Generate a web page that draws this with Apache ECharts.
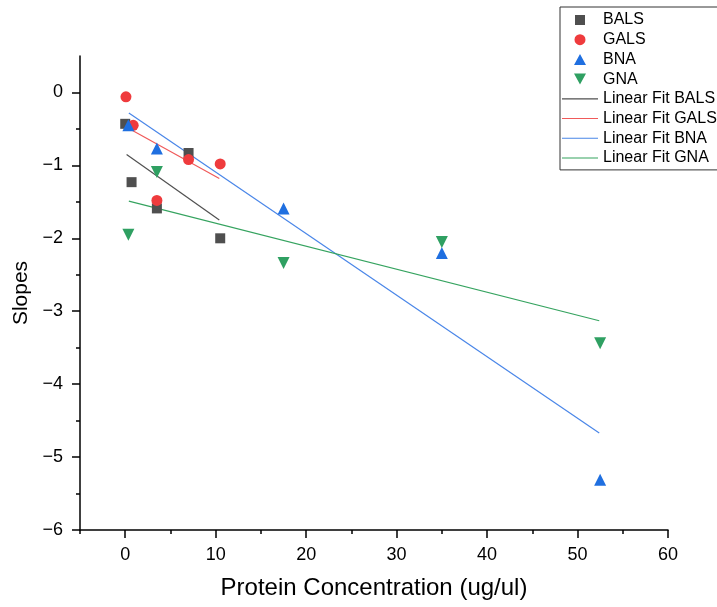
<!DOCTYPE html>
<html>
<head>
<meta charset="utf-8">
<script src="https://cdn.jsdelivr.net/npm/echarts@6/dist/echarts.min.js"></script>
<style>html,body{margin:0;padding:0;background:#fff}#c{width:717px;height:607px}</style>
</head>
<body>
<div id="c"></div>
<script>
// ---- data ----
const balsX = [0, 0.7, 3.5, 7, 10.5];
const balsY = [-0.43, -1.23, -1.59, -0.83, -2.0];
const galsX = [0.08, 0.88, 3.5, 7, 10.5];
const galsY = [-0.06, -0.45, -1.48, -0.92, -0.98];
const bnaX = [0.35, 3.5, 17.5, 35, 52.5];
const bnaY = [-0.45, -0.77, -1.59, -2.2, -5.31];
const gnaX = [0.35, 3.5, 17.5, 35, 52.5];
const gnaY = [-1.95, -1.09, -2.34, -2.05, -3.44];
// fit line endpoints
const fitBalsX = [0.15, 10.4], fitBalsY = [-0.85, -1.75];
const fitGalsX = [0.2, 10.4], fitGalsY = [-0.48, -1.18];
const fitBnaX = [0.4, 52.4], fitBnaY = [-0.28, -4.67];
const fitGnaX = [0.4, 52.4], fitGnaY = [-1.49, -3.13];
// ticks
const xTicks = [0, 10, 20, 30, 40, 50, 60];
const xMinor = [-5, 5, 15, 25, 35, 45, 55];
const yTicks = [0, -1, -2, -3, -4, -5, -6];
const yMinor = [-0.5, -1.5, -2.5, -3.5, -4.5, -5.5];
const names = ['BALS', 'GALS', 'BNA', 'GNA', 'Linear Fit BALS', 'Linear Fit GALS', 'Linear Fit BNA', 'Linear Fit GNA'];

const zip = (xs, ys) => xs.map((x, i) => [x, ys[i]]);
const FONT = '"Liberation Sans", Arial, sans-serif';
const minus = v => String(v).replace('-', '\u2212');

// legend icons: padded paths (36x11 box) so shapes keep their own size
const PAD = 'M0,0L0,0ZM36,11L36,11Z';
const icons = {
  'BALS': 'path://' + PAD + 'M13,0.5L23,0.5L23,10.5L13,10.5Z',
  'GALS': 'path://' + PAD + 'M18,0A5.5,5.5,0,1,1,17.99,0Z',
  'BNA': 'path://' + PAD + 'M12,11L18,0L24,11Z',
  'GNA': 'path://' + PAD + 'M12,0L24,0L18,11Z',
  'line': 'path://' + PAD + 'M0,5L36,5L36,6.1L0,6.1Z'
};
const legendData = names.map(n => ({name: n, icon: icons[n] || icons.line}));

function tickAxis(dim, vals, len) {
  return {
    type: 'value', min: dim === 'x' ? -5 : -6, max: dim === 'x' ? 60 : 0.5,
    position: dim === 'x' ? 'bottom' : 'left',
    axisLine: {show: false, onZero: false},
    axisTick: {show: true, length: len, customValues: vals, lineStyle: {color: '#000', width: 1.5}},
    axisLabel: {show: false}, splitLine: {show: false}
  };
}

const chart = echarts.init(document.getElementById('c'), null, {renderer: 'canvas'});
chart.setOption({
  animation: false,
  backgroundColor: '#fff',
  grid: {left: 80, right: 49, top: 56, bottom: 77, containLabel: false},
  xAxis: [{
    type: 'value', min: -5, max: 60,
    name: 'Protein Concentration (ug/ul)', nameLocation: 'middle', nameGap: 46,
    nameTextStyle: {fontFamily: FONT, fontSize: 24, color: '#000'},
    axisLine: {show: true, onZero: false, lineStyle: {color: '#000', width: 1.5}},
    axisTick: {show: false},
    axisLabel: {customValues: xTicks, margin: 16, fontFamily: FONT, fontSize: 18, color: '#000', formatter: minus},
    splitLine: {show: false}
  }, tickAxis('x', xTicks, 8), tickAxis('x', xMinor, 4)],
  yAxis: [{
    type: 'value', min: -6, max: 0.5,
    name: 'Slopes', nameLocation: 'middle', nameGap: 43,
    nameTextStyle: {fontFamily: FONT, fontSize: 21, color: '#000'},
    axisLine: {show: true, onZero: false, lineStyle: {color: '#000', width: 1.5}},
    axisTick: {show: false},
    axisLabel: {customValues: yTicks, margin: 17, fontFamily: FONT, fontSize: 18, color: '#000', formatter: minus},
    splitLine: {show: false}
  }, tickAxis('y', yTicks, 8), tickAxis('y', yMinor, 4)],
  legend: {
    orient: 'vertical', left: 560, top: 7,
    padding: [5, 6, 4, 2],
    borderColor: '#333', borderWidth: 1,
    itemWidth: 36, itemHeight: 11, itemGap: 3.7,
    symbolKeepAspect: true,
    textStyle: {fontFamily: FONT, fontSize: 16, color: '#000', lineHeight: 16},
    data: legendData
  },
  series: [
    {name: 'Linear Fit BALS', type: 'line', symbol: 'none', data: zip(fitBalsX, fitBalsY), lineStyle: {color: '#505050', width: 1.2}, itemStyle: {color: '#505050'}, z: 2},
    {name: 'Linear Fit GALS', type: 'line', symbol: 'none', data: zip(fitGalsX, fitGalsY), lineStyle: {color: '#f05a5a', width: 1.2}, itemStyle: {color: '#f05a5a'}, z: 2},
    {name: 'Linear Fit BNA', type: 'line', symbol: 'none', data: zip(fitBnaX, fitBnaY), lineStyle: {color: '#4a86e8', width: 1.2}, itemStyle: {color: '#4a86e8'}, z: 2},
    {name: 'Linear Fit GNA', type: 'line', symbol: 'none', data: zip(fitGnaX, fitGnaY), lineStyle: {color: '#35a35f', width: 1.2}, itemStyle: {color: '#35a35f'}, z: 2},
    {name: 'BALS', type: 'scatter', symbol: 'rect', symbolSize: 10, data: zip(balsX, balsY), itemStyle: {color: '#4f4f4f', opacity: 1}, z: 5},
    {name: 'GALS', type: 'scatter', symbol: 'circle', symbolSize: 11, data: zip(galsX, galsY), itemStyle: {color: '#ef3b3d', opacity: 1}, z: 5},
    {name: 'BNA', type: 'scatter', symbol: 'triangle', symbolSize: 12, data: zip(bnaX, bnaY), itemStyle: {color: '#1f6fe0', opacity: 1}, z: 5},
    {name: 'GNA', type: 'scatter', symbol: 'triangle', symbolRotate: 180, symbolSize: 12, data: zip(gnaX, gnaY), itemStyle: {color: '#2fa062', opacity: 1}, z: 5}
  ]
});
</script>
</body>
</html>
